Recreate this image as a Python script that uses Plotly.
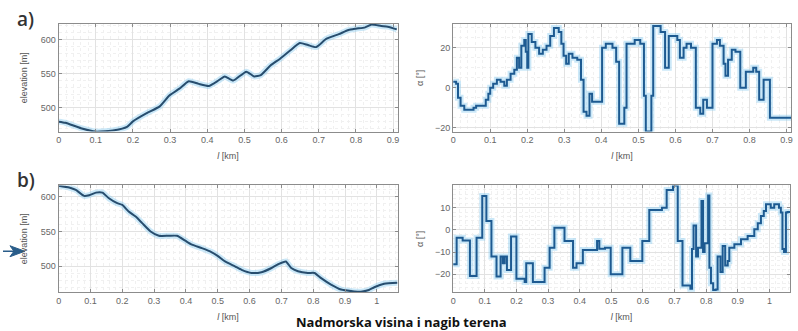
import plotly.graph_objects as go

W, H = 798, 331

# ---- a) elevation profile (distance in km, elevation in m)
elev_a_l = [0.0, 0.018, 0.06, 0.1, 0.15, 0.184, 0.2, 0.237, 0.272, 0.298, 0.325, 0.35,
            0.377, 0.404, 0.43, 0.447, 0.47, 0.505, 0.526, 0.544, 0.57, 0.596, 0.623,
            0.649, 0.671, 0.693, 0.72, 0.754, 0.78, 0.8, 0.825, 0.842, 0.868, 0.886, 0.91]
elev_a_h = [479.6, 478, 470, 465, 467, 472, 480, 492, 502, 518, 528, 539,
            535, 532, 540, 546, 540, 553, 546, 548, 562, 572, 584,
            595, 592, 589, 601, 608, 614, 616, 618, 622, 620, 619, 615]

# ---- a) slope angle (step profile)
slope_a_l = [0.0, 0.008, 0.013, 0.02, 0.03, 0.055, 0.062, 0.088, 0.095, 0.1, 0.108, 0.118,
             0.128, 0.138, 0.145, 0.155, 0.165, 0.172, 0.178, 0.184, 0.192, 0.196, 0.2,
             0.203, 0.212, 0.222, 0.232, 0.242, 0.252, 0.262, 0.272, 0.285, 0.292, 0.298,
             0.305, 0.312, 0.322, 0.335, 0.345, 0.352, 0.36, 0.368, 0.375, 0.402, 0.412,
             0.43, 0.44, 0.448, 0.462, 0.468, 0.49, 0.505, 0.515, 0.52, 0.535, 0.54, 0.56,
             0.572, 0.582, 0.605, 0.612, 0.622, 0.63, 0.642, 0.655, 0.667, 0.675, 0.685,
             0.7, 0.712, 0.72, 0.73, 0.735, 0.742, 0.752, 0.762, 0.775, 0.79, 0.81, 0.818,
             0.826, 0.838, 0.855, 0.912]
slope_a_v = [3, 2, -5, -9, -11, -10, -9, -6, -3, 0, 2, 4,
             3, 1, 4, 7, 9, 15, 10, 21, 24, 18, 10,
             27, 23, 20, 17, 19, 21, 26, 30, 28, 22, 16,
             12, 17, 15, 14, 4, -12, -14, -3, -7, 20, 22,
             20, 13, -18, -10, 22, 24, 22, -4, -22, -4, 31, 28,
             10, 26, 24, 15, 20, 22, 20, -10, -13, -6, -10,
             22, 24, 21, 12, 6, 14, 19, 18, 0, 8, 10, 8,
             -6, 4, -15, -15]

# ---- b) elevation profile
elev_b_l = [0.0, 0.033, 0.054, 0.08, 0.096, 0.117, 0.1375, 0.158, 0.184, 0.2, 0.22, 0.242,
            0.2625, 0.289, 0.315, 0.346, 0.372, 0.398, 0.419, 0.45, 0.48, 0.502, 0.523,
            0.554, 0.575, 0.606, 0.6375, 0.669, 0.69, 0.714, 0.731, 0.752, 0.783, 0.804,
            0.825, 0.856, 0.8875, 0.929, 0.95, 0.975, 0.992, 1.023, 1.065]
elev_b_h = [615.7, 613, 609.5, 601, 602, 605.7, 605.7, 597.6, 590.5, 588, 578.6, 571.4,
            562, 550, 543.8, 543.8, 543.8, 536.7, 531, 526, 520.5, 514.3, 507,
            500, 495, 490.5, 491.5, 497.6, 503, 507, 497.6, 493, 490.5, 490.5,
            483, 473.8, 466.7, 464, 463.5, 466, 470, 475, 476.5]

# ---- b) slope angle (step profile)
slope_b_l = [0.0, 0.011, 0.03, 0.053, 0.074, 0.092, 0.105, 0.121, 0.137, 0.15, 0.157, 0.163,
             0.17, 0.183, 0.2, 0.226, 0.231, 0.247, 0.252, 0.284, 0.289, 0.305, 0.32, 0.347,
             0.352, 0.379, 0.39, 0.41, 0.45, 0.455, 0.462, 0.48, 0.498, 0.535, 0.56, 0.598,
             0.62, 0.66, 0.675, 0.695, 0.71, 0.725, 0.75, 0.755, 0.76, 0.768, 0.774, 0.785,
             0.79, 0.795, 0.806, 0.81, 0.815, 0.822, 0.83, 0.836, 0.845, 0.852, 0.86, 0.868,
             0.873, 0.889, 0.91, 0.931, 0.952, 0.963, 0.973, 0.982, 0.989, 1.004, 1.015,
             1.03, 1.036, 1.041, 1.046, 1.052, 1.057, 1.065]
slope_b_v = [-15.5, -3.5, -4.8, -20.8, -3.5, 15.2, 4, -12, -21, -12, -15, -12,
             -18, -3, -22, -23.5, -15, -15, -23.5, -23.5, -17, -8, 1, 1,
             -5, -17, -15, -9, -9, -5, -8.5, -8, -20, -8, -14, -5,
             9, 10, 18, 20, -5, -25, -26.5, -8.6, 2, -12, -8, 13,
             -10, -6, 15.5, -17, -24, -27, -26.8, -12, -19, -7.3, -16, -14,
             -8, -6.5, -4.2, -2.8, 0.3, 3, 6.3, 8.5, 11.5, 10, 11.5,
             10, 7.8, -8.6, -10, 7.8, 8, 8]

# pixel boxes of the four axes (left, top, right, bottom)
boxes = {
    "1": (56, 24, 397, 132),
    "2": (453, 24, 793, 132),
    "3": (56, 186, 397, 293),
    "4": (453, 186, 792, 293),
}

HALO = "rgba(140,205,240,0.45)"
ELEV_COLOR = "#274d6e"
SLOPE_COLOR = "#1d5a91"

fig = go.Figure()


def add_series(n, x, y, color, shape):
    xa = "x" if n == "1" else "x" + n
    ya = "y" if n == "1" else "y" + n
    extra = dict(smoothing=0.5) if shape == "spline" else {}
    fig.add_trace(go.Scatter(x=x, y=y, mode="lines", xaxis=xa, yaxis=ya,
                             line=dict(color=HALO, width=6, shape=shape, **extra),
                             hoverinfo="skip", showlegend=False))
    fig.add_trace(go.Scatter(x=x, y=y, mode="lines", xaxis=xa, yaxis=ya,
                             line=dict(color=color, width=2, shape=shape, **extra),
                             showlegend=False))


add_series("1", elev_a_l, elev_a_h, ELEV_COLOR, "spline")
add_series("2", slope_a_l, slope_a_v, SLOPE_COLOR, "hv")
add_series("3", elev_b_l, elev_b_h, ELEV_COLOR, "spline")
add_series("4", slope_b_l, slope_b_v, SLOPE_COLOR, "hv")

TICK_FONT = dict(family="Liberation Sans, Arial, sans-serif", size=9, color="#666")
TITLE_FONT = dict(family="Liberation Sans, Arial, sans-serif", size=9, color="#555")


def axis_common():
    return dict(showline=True, linecolor="#8c8c8c", linewidth=1, mirror="ticks",
                ticks="inside", ticklen=3, tickcolor="#8c8c8c",
                showgrid=True, gridcolor="#e2e2e2", gridwidth=1,
                zeroline=False, tickfont=TICK_FONT, fixedrange=True)


x_ranges = {"1": [0, 0.912], "2": [0, 0.912], "3": [0, 1.065], "4": [0, 1.065]}
y_ranges = {"1": [465, 623], "2": [-22, 32], "3": [463, 616], "4": [-28, 20]}
y_ticks = {"1": [500, 550, 600], "2": [-20, 0, 20], "3": [500, 550, 600], "4": [-20, -10, 0, 10]}
y_minor = {"1": 10, "2": 5, "3": 10, "4": 2}
y_titles = {"1": "elevation [m]", "2": "α [°]", "3": "elevation [m]", "4": "α [°]"}
y_standoff = {"1": 11, "2": 9, "3": 11, "4": 9}

x_top_ticks = [0, 0.1, 0.2, 0.3, 0.4, 0.5, 0.6, 0.7, 0.8, 0.9]
x_bot_ticks = [0, 0.1, 0.2, 0.3, 0.4, 0.5, 0.6, 0.7, 0.8, 0.9, 1.0]
x_top_text = ["0", "0.1", "0.2", "0.3", "0.4", "0.5", "0.6", "0.7", "0.8", "0.9"]
x_bot_text = x_top_text + ["1"]

layout = dict(width=W, height=H, margin=dict(l=0, r=0, t=0, b=0),
              paper_bgcolor="white", plot_bgcolor="white", showlegend=False)

for n, (l, t, r, b) in boxes.items():
    xk = "xaxis" if n == "1" else "xaxis" + n
    yk = "yaxis" if n == "1" else "yaxis" + n
    ya = "y" if n == "1" else "y" + n
    xa = "x" if n == "1" else "x" + n
    top = n in ("1", "2")
    xax = axis_common()
    xax.update(domain=[l / W, r / W], anchor=ya, range=x_ranges[n],
               tickvals=x_top_ticks if top else x_bot_ticks,
               ticktext=x_top_text if top else x_bot_text,
               minor=dict(dtick=0.02, tick0=0, showgrid=True, gridcolor="#f0f0f0",
                          griddash="dot", ticks=""),
               title=dict(text="<i>l</i> [km]", font=TITLE_FONT, standoff=8))
    yax = axis_common()
    yax.update(domain=[1 - b / H, 1 - t / H], anchor=xa, range=y_ranges[n],
               tickvals=y_ticks[n],
               minor=dict(dtick=y_minor[n], tick0=0, showgrid=True, gridcolor="#f0f0f0",
                          griddash="dot", ticks=""),
               title=dict(text=y_titles[n], font=TITLE_FONT, standoff=y_standoff[n]))
    layout[xk] = xax
    layout[yk] = yax

fig.update_layout(**layout)

PANEL_FONT = dict(family="Open Sans, sans-serif", size=19, color="#333", weight=600)
fig.add_annotation(text="a)", x=12 / W, y=1 - 19 / H, xref="paper", yref="paper",
                   xanchor="left", yanchor="middle", showarrow=False, font=PANEL_FONT)
fig.add_annotation(text="b)", x=12 / W, y=1 - 181 / H, xref="paper", yref="paper",
                   xanchor="left", yanchor="middle", showarrow=False, font=PANEL_FONT)
fig.add_annotation(text="<b>Nadmorska visina i nagib terena</b>", x=401 / W, y=1 - 323 / H,
                   xref="paper", yref="paper", xanchor="center", yanchor="middle",
                   showarrow=False,
                   font=dict(family="Open Sans, sans-serif", size=13, color="#111"))

# pointer arrow at the left edge of panel b)
ARROW = "#2a5d8a"
fig.add_shape(type="line", xref="paper", yref="paper",
              x0=0, y0=1 - 252 / H, x1=14 / W, y1=1 - 252 / H,
              line=dict(color=ARROW, width=1.5))
fig.add_shape(type="path", xref="paper", yref="paper",
              path=f"M {7 / W} {1 - 246.5 / H} L {22 / W} {1 - 252 / H} L {7 / W} {1 - 257.5 / H} L {11 / W} {1 - 252 / H} Z",
              fillcolor=ARROW, line=dict(color=ARROW, width=1))

fig.write_html("out.html")
